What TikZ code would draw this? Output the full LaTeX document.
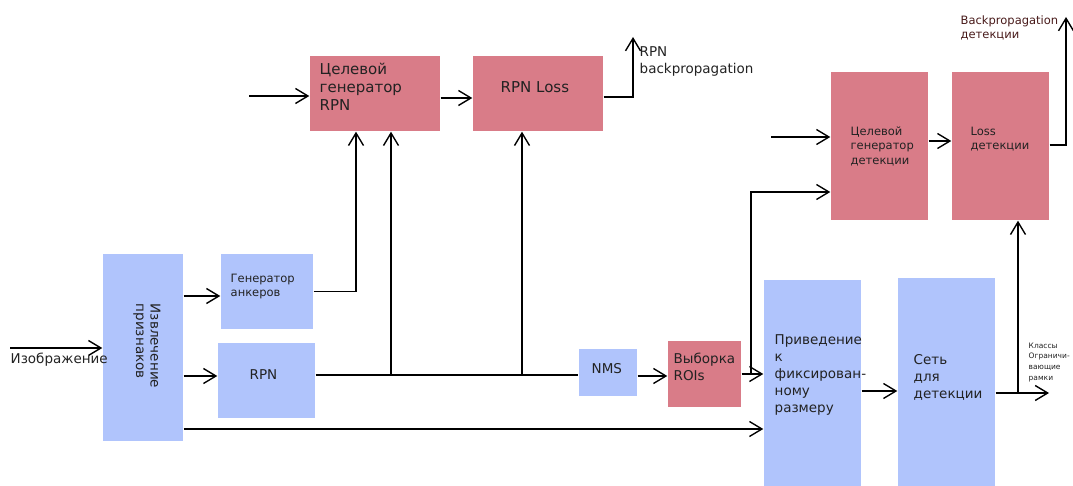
\documentclass[tikz,border=0pt]{standalone}
\usepackage{fontspec}
\setmainfont{DejaVu Sans}
\usetikzlibrary{arrows.meta}
\definecolor{boxblue}{RGB}{176,196,252}
\definecolor{boxred}{RGB}{217,124,136}
\definecolor{txtgray}{RGB}{34,34,34}
\definecolor{txtbrown}{RGB}{72,26,26}
\begin{document}
\begin{tikzpicture}[x=1pt,y=-1pt,line width=1.4pt,
  >={Straight Barb[length=12.5pt,width=15pt]},
  bluebox/.style={fill=boxblue,inner sep=0pt},
  redbox/.style={fill=boxred,inner sep=0pt},
  big/.style={font=\fontsize{13.5}{17}\selectfont,text=txtgray,inner sep=0pt,anchor=north west,align=left},
  large/.style={big,font=\fontsize{15}{18}\selectfont},
  mid/.style={big,font=\fontsize{11.5}{14.5}\selectfont},
  tiny/.style={big,font=\fontsize{7.5}{10.7}\selectfont}]
\useasboundingbox (0,0) rectangle (1073,486);
\node[bluebox,minimum width=80,minimum height=187] (feat) at (143,347.5) {};
\node[bluebox,minimum width=92,minimum height=75] (anch) at (267,291.5) {};
\node[bluebox,minimum width=97,minimum height=75] (rpn) at (266.5,380.5) {};
\node[redbox,minimum width=130,minimum height=75] (trpn) at (375,93.5) {};
\node[redbox,minimum width=130,minimum height=75] (rpnloss) at (538,93.5) {};
\node[bluebox,minimum width=58,minimum height=47] (nms) at (608,372.5) {};
\node[redbox,minimum width=73,minimum height=66] (roi) at (704.5,374) {};
\node[bluebox,minimum width=97,minimum height=206] (fix) at (812.5,383) {};
\node[bluebox,minimum width=97,minimum height=208] (det) at (946.5,382) {};
\node[redbox,minimum width=97,minimum height=148] (tdet) at (879.5,146) {};
\node[redbox,minimum width=97,minimum height=148] (ldet) at (1000.5,146) {};
\node[big,font=\fontsize{13.5}{14.5}\selectfont,anchor=center,rotate=-90] (feattxt) at (147,346) {Извлечение\\признаков};
\node[mid] (anchtxt) at (230,273) {Генератор\\анкеров};
\node[big] (rpntxt) at (249,369) {RPN};
\node[large] (trpntxt) at (319,62) {Целевой\\генератор\\RPN};
\node[large] (rpnlosstxt) at (500,80.5) {RPN Loss};
\node[big] (nmstxt) at (591,363) {NMS};
\node[big] (roitxt) at (673,352) {Выборка\\ROIs};
\node[big] (fixtxt) at (774,334) {Приведение\\к\\фиксирован-\\ному\\размеру};
\node[big] (dettxt) at (913,354) {Сеть\\для\\детекции};
\node[mid] (tdettxt) at (850,126) {Целевой\\генератор\\детекции};
\node[mid] (ldettxt) at (970,126) {Loss\\детекции};
\coordinate (imgin) at (10,348);
\draw[->] (imgin) -- (imgin -| feat.west);
\node[big] (imgtxt) at (10,352) {Изображение};
\draw[->] (feat.east |- 0,296) -- (anch.west |- 0,296);
\draw[->] (feat.east |- 0,376) -- (rpn.west |- 0,376);
\draw[->] (feat.east |- 0,429) -- (fix.west |- 0,429);
\draw[->] (anch.east) -| (trpn.south -| 356,0);
\draw (rpn.east |- 0,375) -- (nms.west |- 0,375);
\foreach \bx/\tgt in {391/trpn,522/rpnloss}{
  \draw[->] (\bx,375) -- (\tgt.south -| \bx,0);}
\coordinate (trpnin) at (249,96);
\draw[->] (trpnin) -- (trpnin -| trpn.west);
\draw[->] (trpn.east |- 0,98) -- (rpnloss.west |- 0,98);
\coordinate (rpnbp) at (633,37);
\draw[->] (rpnloss.east |- 0,97) -| (rpnbp);
\node[big] (rpnbptxt) at (639,46) {RPN\\backpropagation};
\draw[->] (nms.east |- 0,376) -- (roi.west |- 0,376);
\draw[->] (roi.east |- 0,374) -- (fix.west |- 0,374);
\draw[->] (751,374) |- (tdet.west |- 0,192);
\coordinate (tdetin) at (771,137);
\draw[->] (tdetin) -- (tdetin -| tdet.west);
\draw[->] (tdet.east |- 0,141) -- (ldet.west |- 0,141);
\coordinate (detbp) at (1066,17);
\draw[->] (ldet.east |- 0,145) -| (detbp);
\node[mid,text=txtbrown] (detbptxt) at (960,15) {Backpropagation\\детекции};
\draw[->] (fix.east |- 0,391) -- (det.west |- 0,391);
\coordinate (detout) at (1049,393);
\draw[->] (det.east |- 0,393) -- (detout);
\draw[->] (1018,393) -- (ldet.south -| 1018,0);
\node[tiny] (outtxt) at (1028,342) {Классы\\Ограничи-\\вающие\\рамки};
\end{tikzpicture}
\end{document}
